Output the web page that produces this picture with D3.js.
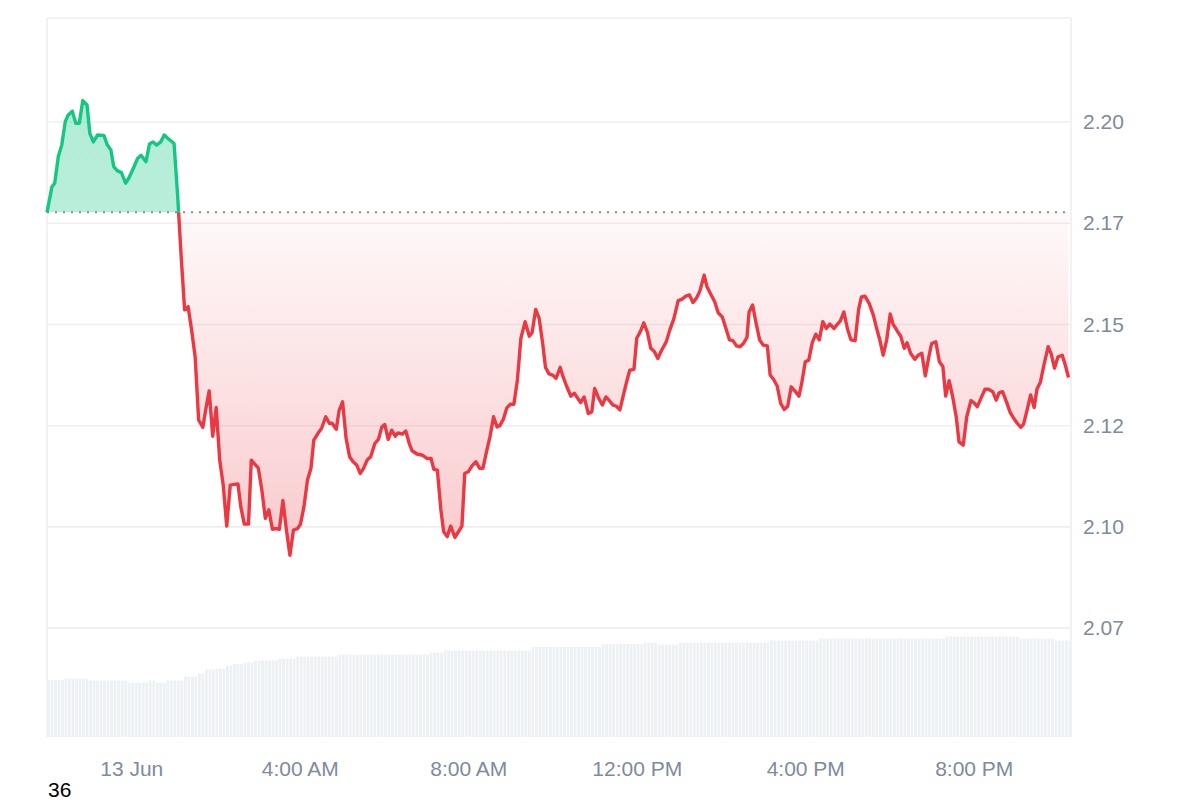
<!DOCTYPE html>
<html><head><meta charset="utf-8">
<script src="https://cdn.jsdelivr.net/npm/d3@7"></script>
<style>body{margin:0;background:#fff;} svg{display:block;font-family:"Liberation Sans",Arial,Helvetica,sans-serif;}</style>
</head><body><svg id="c" width="1200" height="800"></svg>
<script>
// ---- data ----
const startTime = Date.UTC(2024, 5, 12, 22, 0); // 12 Jun 22:00
const minutes = [0,7,11,16,21,26,30,36,41,46,51,57,61,66,72,81,86,91,95,100,106,112,117,123,129,134,141,146,151,156,162,167,172,181,186,191,196,201,206,211,216,222,226,231,236,241,246,251,256,261,267,272,276,281,287,291,296,301,306,311,316,321,326,331,336,341,346,351,357,361,366,371,376,380,386,391,397,402,406,412,416,421,426,431,436,441,446,451,456,461,467,472,477,481,486,491,496,500,506,511,516,520,527,535,541,547,551,556,561,565,570,575,581,586,591,595,600,605,611,616,621,626,631,636,641,645,650,655,660,665,670,675,681,687,691,696,701,706,710,715,720,725,731,735,740,746,751,755,760,765,771,776,780,786,791,796,801,806,811,816,821,826,830,836,840,845,850,855,860,865,870,875,882,887,893,899,904,910,915,920,925,930,936,940,946,951,956,962,967,972,977,982,987,992,997,1000,1005,1010,1015,1020,1026,1030,1035,1040,1045,1050,1055,1060,1066,1071,1075,1080,1085,1090,1095,1100,1105,1110,1115,1121,1126,1130,1135,1140,1145,1151,1156,1160,1165,1171,1177,1182,1186,1191,1196,1201,1205,1211,1216,1221,1225,1230,1236,1241,1246,1251,1256,1260,1266,1271,1276,1280,1285,1290,1295,1299,1305,1310,1316,1320,1325,1330,1336,1341,1347,1352,1356,1361,1367,1372,1377,1382,1387,1391,1396,1401,1406,1410,1415,1420,1426,1430,1435,1440,1446,1450,1455];
const prices = [2.1777,2.1840,2.1849,2.1914,2.1943,2.2001,2.2017,2.2027,2.1997,2.1997,2.2053,2.2042,2.1972,2.1951,2.1968,2.1967,2.1943,2.1931,2.1890,2.1880,2.1875,2.1849,2.1863,2.1886,2.1910,2.1918,2.1902,2.1946,2.1951,2.1943,2.1951,2.1968,2.1960,2.1947,2.1820,2.1671,2.1536,2.1544,2.1486,2.1420,2.1264,2.1246,2.1289,2.1336,2.1224,2.1295,2.1165,2.1103,2.1002,2.1103,2.1105,2.1106,2.1050,2.1007,2.1007,2.1165,2.1155,2.1145,2.1091,2.1021,2.1042,2.0994,2.0996,2.0994,2.1065,2.0992,2.0930,2.0992,2.0996,2.1007,2.1050,2.1116,2.1145,2.1214,2.1231,2.1243,2.1272,2.1256,2.1256,2.1241,2.1287,2.1309,2.1219,2.1173,2.1161,2.1153,2.1132,2.1145,2.1165,2.1173,2.1206,2.1216,2.1247,2.1253,2.1216,2.1239,2.1224,2.1232,2.1229,2.1237,2.1206,2.1188,2.1180,2.1177,2.1169,2.1169,2.1142,2.1140,2.1042,2.0988,2.0976,2.1002,2.0974,2.0988,2.1002,2.1132,2.1136,2.1150,2.1161,2.1145,2.1145,2.1186,2.1223,2.1272,2.1247,2.1250,2.1266,2.1294,2.1303,2.1303,2.1363,2.1466,2.1507,2.1471,2.1480,2.1537,2.1515,2.1453,2.1394,2.1378,2.1375,2.1367,2.1394,2.1371,2.1348,2.1323,2.1330,2.1320,2.1307,2.1321,2.1280,2.1284,2.1342,2.1317,2.1301,2.1321,2.1312,2.1301,2.1298,2.1289,2.1326,2.1361,2.1387,2.1389,2.1466,2.1482,2.1504,2.1482,2.1441,2.1433,2.1416,2.1435,2.1457,2.1486,2.1515,2.1559,2.1562,2.1570,2.1573,2.1554,2.1565,2.1583,2.1622,2.1593,2.1573,2.1556,2.1529,2.1518,2.1490,2.1462,2.1460,2.1447,2.1445,2.1453,2.1468,2.1531,2.1548,2.1503,2.1462,2.1449,2.1447,2.1375,2.1364,2.1348,2.1305,2.1290,2.1298,2.1346,2.1334,2.1323,2.1355,2.1408,2.1412,2.1455,2.1476,2.1462,2.1507,2.1490,2.1501,2.1490,2.1501,2.1509,2.1531,2.1490,2.1462,2.1460,2.1537,2.1568,2.1570,2.1552,2.1523,2.1488,2.1463,2.1424,2.1462,2.1526,2.1501,2.1484,2.1471,2.1441,2.1455,2.1429,2.1414,2.1424,2.1429,2.1373,2.1420,2.1453,2.1457,2.1408,2.1396,2.1323,2.1361,2.1321,2.1272,2.1210,2.1202,2.1272,2.1312,2.1307,2.1297,2.1317,2.1340,2.1340,2.1334,2.1313,2.1331,2.1334,2.1307,2.1282,2.1268,2.1256,2.1246,2.1254,2.1289,2.1326,2.1295,2.1340,2.1358,2.1400,2.1445,2.1429,2.1392,2.1420,2.1424,2.1402,2.1369];
// volume (USD millions), 5-minute bars given as runs of equal height
const volStepMinutes = 5;
const volCounts = [5,7,11,6,2,3,5,4,2,3,3,2,3,3,7,5,12,26,4,25,20,12,4,6,26,14,36,21,10,5];
const volValues = [114,117,113,109,113,109,113,121,127,135,137,142,146,149,153,157,161,165,169,173,180,186,189,185,189,193,197,201,197,193];
const yTicks = [2.075, 2.1, 2.125, 2.15, 2.175, 2.2];
const yTickLabels = ["2.07", "2.10", "2.12", "2.15", "2.17", "2.20"];
const xTicks = [Date.UTC(2024,5,13,0), Date.UTC(2024,5,13,4), Date.UTC(2024,5,13,8), Date.UTC(2024,5,13,12), Date.UTC(2024,5,13,16), Date.UTC(2024,5,13,20)];
const xTickLabels = ["13 Jun", "4:00 AM", "8:00 AM", "12:00 PM", "4:00 PM", "8:00 PM"];
const cornerLabel = "36";
const priceDomain = [2.0481, 2.2257];
const volDomain = [0, 240];
const spanMinutes = 1458.5;

// ---- layout ----
const L = 47, R = 1071, T = 18, B = 737;
const svg = d3.select("#c");
const MIN = 60000;
const data = minutes.map((m, i) => ({t: new Date(startTime + m * MIN), p: prices[i]}));
const baseline = prices[0];

const x = d3.scaleUtc().domain([new Date(startTime), new Date(startTime + spanMinutes * MIN)]).range([L, R]);
const y = d3.scaleLinear().domain(priceDomain).range([B, T]);
const yv = d3.scaleLinear().domain(volDomain).range([B, B - 120]);

const defs = svg.append("defs");
defs.append("clipPath").attr("id", "plot").append("rect").attr("x", L).attr("y", T).attr("width", R - L).attr("height", B - T);
defs.append("clipPath").attr("id", "above").append("rect").attr("x", L - 2).attr("y", T).attr("width", R - L + 4).attr("height", y(baseline) - T);
defs.append("clipPath").attr("id", "below").append("rect").attr("x", L - 2).attr("y", y(baseline)).attr("width", R - L + 4).attr("height", B - y(baseline));
const gR = defs.append("linearGradient").attr("id", "gred").attr("gradientUnits", "userSpaceOnUse")
  .attr("x1", 0).attr("x2", 0).attr("y1", y(baseline)).attr("y2", y(d3.min(prices)));
gR.append("stop").attr("offset", 0).attr("stop-color", "#ea3943").attr("stop-opacity", 0.03);
gR.append("stop").attr("offset", 1).attr("stop-color", "#ea3943").attr("stop-opacity", 0.27);
const gG = defs.append("linearGradient").attr("id", "ggreen").attr("gradientUnits", "userSpaceOnUse")
  .attr("x1", 0).attr("x2", 0).attr("y1", y(d3.max(prices))).attr("y2", y(baseline));
gG.append("stop").attr("offset", 0).attr("stop-color", "#16c784").attr("stop-opacity", 0.33);
gG.append("stop").attr("offset", 1).attr("stop-color", "#16c784").attr("stop-opacity", 0.30);

// grid + frame
const grid = svg.append("g").attr("stroke", "#efeff1").attr("stroke-width", 1.6);
yTicks.forEach(v => grid.append("line").attr("x1", L).attr("x2", R).attr("y1", y(v)).attr("y2", y(v)));
grid.append("line").attr("x1", L).attr("x2", R).attr("y1", T).attr("y2", T);
grid.append("line").attr("x1", L).attr("x2", L).attr("y1", T).attr("y2", B);
grid.append("line").attr("x1", R).attr("x2", R).attr("y1", T).attr("y2", B);

// volume bars
const bars = [];
let k = 0;
volCounts.forEach((c, j) => { for (let n = 0; n < c; n++) { bars.push({t: k * volStepMinutes, v: volValues[j]}); k++; } });
svg.append("g").attr("clip-path", "url(#plot)").selectAll("rect").data(bars).join("rect")
  .attr("x", d => x(new Date(startTime + d.t * MIN)))
  .attr("width", d => x(new Date(startTime + (d.t + volStepMinutes) * MIN)) - x(new Date(startTime + d.t * MIN)) - 0.7)
  .attr("y", d => yv(d.v))
  .attr("height", d => yv(0) - yv(d.v))
  .attr("fill", "#eef1f4");

// areas
const area = d3.area().x(d => x(d.t)).y0(y(baseline)).y1(d => y(d.p));
svg.append("path").datum(data).attr("d", area).attr("fill", "url(#ggreen)").attr("clip-path", "url(#above)");
svg.append("path").datum(data).attr("d", area).attr("fill", "url(#gred)").attr("clip-path", "url(#below)");

// baseline
svg.append("line").attr("x1", L).attr("x2", R).attr("y1", y(baseline)).attr("y2", y(baseline))
  .attr("stroke", "#8f8f8f").attr("stroke-width", 2).attr("stroke-dasharray", "2 6");

// lines
const line = d3.line().x(d => x(d.t)).y(d => y(d.p));
svg.append("path").datum(data).attr("d", line).attr("fill", "none").attr("stroke", "#16c784").attr("stroke-width", 3.4).attr("stroke-linejoin", "round").attr("clip-path", "url(#above)");
svg.append("path").datum(data).attr("d", line).attr("fill", "none").attr("stroke", "#ea3943").attr("stroke-width", 3.4).attr("stroke-linejoin", "round").attr("clip-path", "url(#below)");

// axes
const ya = svg.append("g").attr("transform", `translate(${R},0)`)
  .call(d3.axisRight(y).tickValues(yTicks).tickFormat((d, i) => yTickLabels[i]).tickSize(0).tickPadding(12));
ya.select(".domain").remove();
ya.selectAll("text").attr("fill", "#808a9d").attr("font-size", 21).attr("font-family", "Liberation Sans, Arial, sans-serif");

const xa = svg.append("g").attr("transform", `translate(0,${B})`)
  .call(d3.axisBottom(x).tickValues(xTicks.map(t => new Date(t))).tickFormat((d, i) => xTickLabels[i]).tickSize(0).tickPadding(24));
xa.select(".domain").remove();
xa.selectAll("text").attr("fill", "#808a9d").attr("font-size", 21).attr("font-family", "Liberation Sans, Arial, sans-serif");

svg.append("text").attr("x", 48).attr("y", 797).attr("font-size", 21).attr("fill", "#000").text(cornerLabel);
</script></body></html>
